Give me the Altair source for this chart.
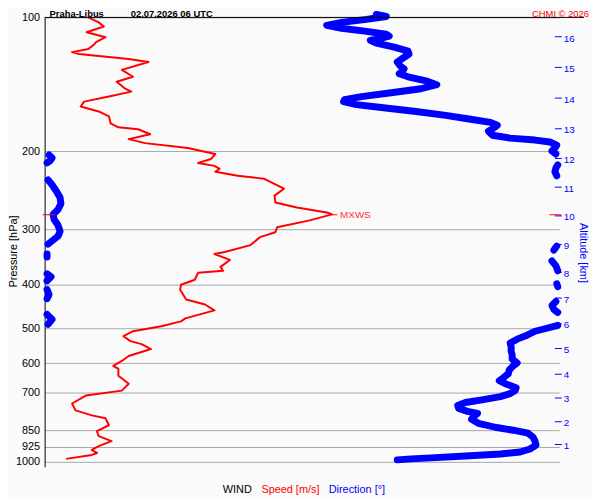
import json
import altair as alt
import pandas as pd

# ---------------- data ----------------
# wind speed profile: pressure [hPa] and speed [m/s]
SPEED_P = [100.0, 102.6, 104.8, 108.0, 110.8, 113.7, 115.4, 117.8, 119.7, 120.9,
           124.1, 126.0, 131.2, 136.0, 139.6, 144.7, 146.9, 150.7, 154.7, 158.7,
           162.8, 167.0, 173.2, 176.7, 178.5, 183.2, 187.9, 191.8, 196.8, 202.9,
           208.2, 212.5, 215.8, 219.1, 222.5, 227.2, 230.7, 242.9, 251.7, 261.0,
           267.7, 274.7, 277.5, 286.2, 296.6, 304.4, 312.2, 325.3, 337.2, 340.7,
           351.3, 364.2, 371.7, 375.5, 389.3, 399.4, 409.8, 431.4, 442.6, 456.3,
           475.5, 482.9, 495.5, 508.3, 521.5, 535.1, 543.3, 557.4, 577.8, 592.9,
           608.2, 617.7, 640.2, 667.1, 691.4, 709.4, 739.1, 766.1, 786.0, 798.2,
           827.3, 853.2, 875.4, 898.1, 921.5, 940.4, 955.0, 964.8, 984.7]
SPEED = [5.1, 6.3, 6.9, 4.9, 7.1, 6.0, 5.7, 5.1, 3.2, 4.0,
         9.8, 12.1, 9.0, 10.3, 8.4, 9.4, 10.1, 7.5, 4.6, 4.2,
         6.3, 7.5, 7.7, 8.6, 10.9, 12.3, 9.8, 11.7, 16.7, 19.9,
         19.4, 17.9, 19.8, 20.4, 19.9, 22.5, 25.6, 27.9, 26.8, 26.9,
         29.4, 32.9, 33.5, 30.9, 27.1, 26.9, 25.1, 24.0, 21.0, 19.8,
         21.6, 20.5, 20.8, 17.9, 17.5, 15.9, 15.8, 16.5, 18.7, 19.8,
         16.4, 15.9, 13.6, 10.3, 9.2, 10.0, 11.3, 12.4, 9.8, 9.0,
         8.0, 8.6, 8.6, 9.8, 9.0, 4.8, 3.2, 3.6, 5.5, 7.1,
         7.5, 6.1, 6.3, 7.8, 6.3, 5.5, 6.1, 5.5, 2.5]

# wind direction profile: pressure [hPa] and direction [deg]
DIR_P = [98.5, 99.5, 101.0, 102.6, 104.2, 105.8, 107.5, 109.1, 110.2, 111.4,
         112.6, 114.3, 116.6, 119.1, 120.9, 123.4, 126.0, 128.6, 130.5, 132.6,
         133.9, 136.0, 138.9, 141.7, 144.7, 147.7, 150.7, 153.1, 154.7, 157.1,
         159.5, 162.8, 166.1, 169.5, 172.3, 174.9, 177.6, 180.4, 184.1, 186.9,
         188.8, 190.7, 193.8, 196.8, 199.8, 202.9,
         203.9, 207.1, 210.3, 212.5,
         214.7, 218.0, 222.5, 227.2,
         232.0, 238.0, 245.4, 254.3, 262.4, 270.5, 277.5, 284.7, 293.6, 302.9,
         310.6, 317.1, 323.7,
         327.0, 333.8,
         340.7, 346.0,
         353.1, 362.3, 371.7,
         377.5, 383.3, 391.3,
         397.4, 403.5,
         409.8, 420.4, 429.2,
         435.8, 444.8, 454.0, 461.1,
         465.9, 478.0, 490.4,
         492.9, 500.5, 508.3, 518.8, 529.6, 540.5, 551.7, 563.1, 574.8, 586.8,
         599.0, 608.2, 620.9, 633.7, 646.9, 656.9, 667.1, 680.9, 691.4, 702.2,
         713.2, 724.2, 735.3, 746.6, 758.3, 770.0, 778.0, 790.0, 802.3, 818.9,
         835.9, 848.9, 862.0, 879.9, 898.1, 916.7, 935.6, 950.1, 959.9, 969.8,
         979.7, 984.7, 989.8]
DIR = [232.0, 238.9, 225.1, 207.7, 197.3, 207.7, 225.1, 238.9, 241.0, 235.5,
       227.8, 232.0, 244.5, 254.2, 254.9, 250.7, 246.6, 248.7, 251.4, 250.0,
       248.0, 254.2, 266.7, 274.3, 263.2, 242.4, 221.6, 209.8, 209.1, 218.1,
       235.5, 259.8, 280.6, 297.9, 311.8, 316.6, 313.9, 310.4, 313.2, 325.6,
       343.0, 353.4, 358.2, 356.9, 354.8, 357.6,
       3.1, 5.2, 3.8, 1.7,
       358.9, 357.6, 356.9, 358.2,
       2.4, 5.2, 8.0, 10.8, 11.4, 9.4, 5.9, 6.6, 9.4, 10.8,
       9.4, 5.9, 2.4,
       358.2, 356.2,
       1.7, 1.7,
       354.8, 357.6, 358.9,
       1.7, 4.5, 1.7,
       358.2, 358.9,
       1.7, 3.1, 1.7,
       357.6, 354.8, 356.2, 358.9,
       1.7, 5.2, 2.4,
       358.9, 351.3, 343.0, 337.4, 330.5, 325.6, 326.3, 326.3, 327.0, 327.0,
       330.5, 327.7, 325.0, 324.3, 320.8, 318.0, 322.2, 329.8, 329.1, 325.6,
       318.7, 306.9, 294.4, 288.9, 289.6, 295.8, 302.8, 300.0, 298.6, 303.4,
       315.2, 327.7, 338.1, 341.6, 343.0, 343.7, 339.5, 332.6, 318.7, 294.4,
       270.2, 256.3, 246.6]

# altitude axis: km labels and the pressure level at which each sits
KM = [str(k) for k in range(1, 17)]
KM_P = [912.1, 808.5, 714.9, 632.1, 555.9, 486.6, 427.0, 373.6, 322.8, 278.2,
        240.3, 207.1, 177.2, 151.5, 129.5, 110.5]

P_TICKS = [100, 200, 300, 400, 500, 600, 700, 850, 925, 1000]
X_TICKS = [10, 20, 30, 40, 50, 60]

MXWS_P = 278.0
MXWS_SPEED = 33.5

# ---------------- chart ----------------
W, H = 520, 454
FONT = "Liberation Sans"

yscale = alt.Scale(type="log", domain=[100, 1026], reverse=True, nice=False, zero=False)
xscale = alt.Scale(domain=[0, 60], nice=False)

x_axis = alt.Axis(values=X_TICKS,
                  labelExpr="datum.value < 60 ? datum.value + ' / ' + datum.value * 6 : ''",
                  grid=True, gridColor="#d9d9d9", gridWidth=1, domain=False,
                  ticks=False, tickSize=0, labelPadding=4, labelFontSize=11,
                  labelColor="black", labelFlush=False, labelOverlap=False, title=None)
left_axis = alt.Axis(orient="left", values=P_TICKS, labelExpr="'' + datum.value",
                     grid=True, gridColor="#a8a8a8", gridWidth=1, domain=True,
                     domainColor="black", domainWidth=1, ticks=False, tickSize=0,
                     labelPadding=5, labelFontSize=11, labelColor="black",
                     labelOverlap=False, labelFlush=False, title=None)
km_expr = f"{json.dumps(KM)}[indexof({json.dumps(KM_P)}, datum.value)]"
right_axis = alt.Axis(orient="right", values=KM_P, labelExpr=km_expr, grid=False,
                      domain=False, ticks=True, tickSize=7, tickColor="#0000ff",
                      tickWidth=1, offset=-5, labelPadding=2, labelFontSize=10,
                      labelColor="#0000ff", labelOverlap=False, labelFlush=False,
                      labelOffset=1.5, title=None)

speed_df = pd.DataFrame({"p": SPEED_P, "speed": SPEED})
speed_df["i"] = range(len(speed_df))

dir_df = pd.DataFrame({"p": DIR_P, "dir": DIR})
dir_df["i"] = range(len(dir_df))
dir_df["seg"] = (dir_df["dir"].diff().abs() > 180).cumsum()

speed_line = alt.Chart(speed_df).mark_line(color="#ff0000", strokeWidth=2, strokeJoin="round").encode(
    x=alt.X("speed:Q", scale=xscale, axis=x_axis),
    y=alt.Y("p:Q", scale=yscale, axis=left_axis),
    order="i:Q",
)

dir_line = alt.Chart(dir_df).transform_calculate(xs="datum.dir / 6").mark_line(
    color="#0000ff", strokeWidth=7, strokeCap="round", strokeJoin="round").encode(
    x=alt.X("xs:Q", scale=xscale, axis=None),
    y=alt.Y("p:Q", scale=yscale, axis=right_axis),
    detail="seg:N",
    order="i:Q",
)

mx_df = pd.DataFrame({"p": [MXWS_P], "speed": [MXWS_SPEED], "label": ["MXWS"]})
mx_base = alt.Chart(mx_df).transform_calculate(s2="datum.speed + 0.6")
mx_y = alt.Y("p:Q", scale=yscale, axis=None)
mx_line = mx_base.mark_rule(color="#ff0000", strokeWidth=1).encode(
    x=alt.X("speed:Q", scale=xscale, axis=None), x2="s2:Q", y=mx_y)
mx_text = mx_base.mark_text(color="#ff3333", fontSize=10, align="left", baseline="middle", dx=3).encode(
    x=alt.X("s2:Q", scale=xscale, axis=None), y=mx_y, text="label:N")
mx_lt = alt.Chart(mx_df).mark_rule(color="#ff0000", strokeWidth=1).encode(
    x=alt.value(-2), x2=alt.value(11), y=mx_y)
mx_rt = alt.Chart(mx_df).mark_rule(color="#ff0000", strokeWidth=1).encode(
    x=alt.value(510), x2=alt.value(522), y=mx_y)

one = alt.Data(values=[{}])
top_rule = alt.Chart(one).mark_rule(color="black", strokeWidth=1).encode(
    x=alt.value(0), x2=alt.value(545), y=alt.value(0))


def label(txt, x, y, color="black", size=11, weight="normal", align="left",
          baseline="alphabetic", angle=0):
    return alt.Chart(one).mark_text(text=txt, color=color, fontSize=size, fontWeight=weight,
                                    align=align, baseline=baseline, angle=angle).encode(
        x=alt.value(x), y=alt.value(y))


texts = [
    label("Praha-Libus", 5, -0.8, size=9.5, weight="bold"),
    label("02.07.2026 06 UTC", 87, -0.8, size=9.5, weight="bold"),
    label("CHMI © 2026", 550, -0.8, color="#ff0000", size=9.5, align="right"),
    label("Pressure [hPa]", -31, 236.5, align="center", baseline="middle", angle=270),
    label("Altitude [km]", 544, 238, color="#0000ff", align="center", baseline="middle", angle=90),
    label("WIND", 180, 480),
    label("Speed [m/s]", 219, 480, color="#ff0000"),
    label("Direction [°]", 287, 480, color="#0000ff"),
]

chart = alt.layer(
    speed_line, dir_line, mx_line, mx_text, mx_lt, mx_rt, top_rule, *texts
).resolve_axis(y="independent").properties(
    width=W, height=H,
    padding={"left": 37, "top": 7, "right": 33, "bottom": 28},
    autosize=alt.AutoSizeParams(type="none"),
    background="#fafafa",
).configure(font=FONT).configure_view(stroke=None)

chart.save("out.html", embed_options={"renderer": "svg", "actions": False})
